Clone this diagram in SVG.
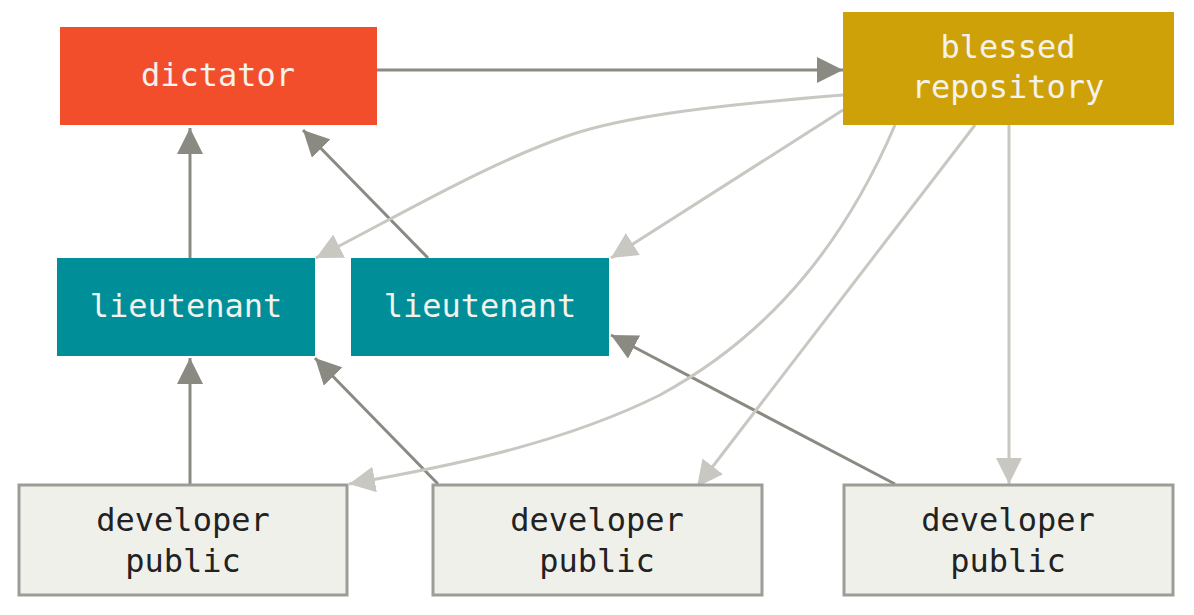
<svg xmlns="http://www.w3.org/2000/svg" width="1194" height="615" viewBox="0 0 1194 615">
<defs>
<marker id="ad" markerUnits="userSpaceOnUse" markerWidth="28" markerHeight="26" refX="26" refY="13" orient="auto"><path d="M0,0 L26,13 L0,26 Z" fill="#8b8a82"/></marker>
<marker id="al" markerUnits="userSpaceOnUse" markerWidth="28" markerHeight="26" refX="26" refY="13" orient="auto"><path d="M0,0 L26,13 L0,26 Z" fill="#c9c7c1"/></marker>
<style>
.t{font-family:"DejaVu Sans Mono","Liberation Mono",monospace;font-size:32px;text-anchor:middle}
.w{fill:#f4f2ec}.k{fill:#222}
.dk{stroke:#8b8a82;stroke-width:3;fill:none}
.lt{stroke:#c9c7c1;stroke-width:3;fill:none}
.dev{fill:#f0f0eb;stroke:#9d9d98;stroke-width:3}
</style>
</defs>
<rect width="1194" height="615" fill="#fff"/>
<g id="connectors">
<path class="dk" d="M377,70 H843" marker-end="url(#ad)"/>
<path class="dk" d="M190,258 V128" marker-end="url(#ad)"/>
<path class="dk" d="M428,258 L303,130" marker-end="url(#ad)"/>
<path class="dk" d="M190,484 V358" marker-end="url(#ad)"/>
<path class="dk" d="M438,484 L315,358" marker-end="url(#ad)"/>
<path class="dk" d="M895,484 L611,335" marker-end="url(#ad)"/>
<path class="lt" d="M843,95 C720,105 630,115 570,135 C490,162 400,215 316,258" marker-end="url(#al)"/>
<path class="lt" d="M843,110 L611,258" marker-end="url(#al)"/>
<path class="lt" d="M895,125 C850,230 780,330 660,395 C560,445 440,468 349,484" marker-end="url(#al)"/>
<path class="lt" d="M975,125 L697,487" marker-end="url(#al)"/>
<path class="lt" d="M1009,125 V484" marker-end="url(#al)"/>
</g>
<g id="dictator"><rect x="60" y="27" width="317" height="98" fill="#f24e2b"/><text class="t w" x="218" y="86">dictator</text></g>
<g id="blessed"><rect x="843" y="12" width="331" height="113" fill="#cfa109"/><text class="t w" x="1008" y="58">blessed</text><text class="t w" x="1008" y="98">repository</text></g>
<g id="lieutenant1"><rect x="57" y="258" width="258" height="98" fill="#008e98"/><text class="t w" x="186" y="317">lieutenant</text></g>
<g id="lieutenant2"><rect x="351" y="258" width="258" height="98" fill="#008e98"/><text class="t w" x="480" y="317">lieutenant</text></g>
<g id="dev1"><rect class="dev" x="19" y="485" width="328" height="110"/><text class="t k" x="183" y="531">developer</text><text class="t k" x="183" y="572">public</text></g>
<g id="dev2"><rect class="dev" x="433" y="485" width="329" height="110"/><text class="t k" x="597" y="531">developer</text><text class="t k" x="597" y="572">public</text></g>
<g id="dev3"><rect class="dev" x="844" y="485" width="329" height="110"/><text class="t k" x="1008" y="531">developer</text><text class="t k" x="1008" y="572">public</text></g>
</svg>
